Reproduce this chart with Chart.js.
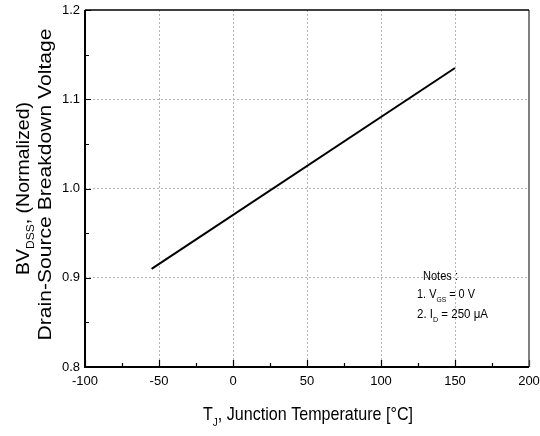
<!DOCTYPE html>
<html>
<head>
<meta charset="utf-8">
<script src="https://cdn.jsdelivr.net/npm/chart.js@4/dist/chart.umd.min.js"></script>
<style>
  html, body { margin: 0; padding: 0; background: #fff; }
  #wrap { width: 540px; height: 436px; position: relative; }
</style>
</head>
<body>
<div id="wrap"><canvas id="c"></canvas></div>
<script>
// ---- Data ----
const temperatures = [-55, 150];          // T_J [°C]
const bvNormalized = [0.910, 1.135];      // BV_DSS (normalized)
const xTickValues = [-100, -50, 0, 50, 100, 150, 200];
const yTickValues = [0.8, 0.9, 1.0, 1.1, 1.2];
const xTitleParts = [{t: 'T'}, {t: 'J', sub: true}, {t: ', Junction Temperature [°C]'}];
const yTitleLine1 = [{t: 'BV'}, {t: 'DSS', sub: true}, {t: ', (Normalized)'}];
const yTitleLine2 = [{t: 'Drain-Source Breakdown Voltage'}];
const noteLines = [
  [{t: 'Notes :'}],
  [{t: '1. V'}, {t: 'GS', sub: true}, {t: ' = 0 V'}],
  [{t: '2. I'}, {t: 'D', sub: true}, {t: ' = 250 μA'}]
];

const FONT = '"Liberation Sans", Arial, sans-serif';

function drawRich(ctx, parts, x, y, size, o) {
  o = o || {};
  const widths = parts.map(p => {
    ctx.font = (p.sub ? size * 0.62 : size) + 'px ' + FONT;
    return ctx.measureText(p.t).width;
  });
  const W = widths.reduce((a, b) => a + b, 0);
  const sx = o.width ? o.width / W : (o.scaleX || 1);
  ctx.save();
  ctx.translate(x, y);
  if (o.rotate) ctx.rotate(o.rotate);
  ctx.scale(sx, 1);
  ctx.fillStyle = '#000';
  ctx.textBaseline = 'alphabetic';
  ctx.textAlign = 'left';
  let cx = o.align === 'left' ? 0 : -W / 2;
  parts.forEach((p, i) => {
    ctx.font = (p.sub ? size * 0.62 : size) + 'px ' + FONT;
    ctx.fillText(p.t, cx, p.sub ? size * 0.3 : 0);
    cx += widths[i];
  });
  ctx.restore();
}

const decorPlugin = {
  id: 'decor',
  afterDraw(chart) {
    const ctx = chart.ctx;
    const a = chart.chartArea;
    const xs = chart.scales.x, ys = chart.scales.y;
    ctx.save();
    // inward ticks
    ctx.strokeStyle = '#000';
    ctx.lineWidth = 1.2;
    ctx.beginPath();
    for (let v = -100; v <= 200; v += 25) {
      const px = Math.round(xs.getPixelForValue(v)) + 0.5;
      const len = (v % 50 === 0) ? 7 : 4;
      ctx.moveTo(px, a.bottom);
      ctx.lineTo(px, a.bottom - len);
    }
    for (let k = 0; k <= 8; k++) {
      const v = 0.8 + k * 0.05;
      const py = Math.round(ys.getPixelForValue(v)) + 0.5;
      const len = (k % 2 === 0) ? 6 : 4;
      ctx.moveTo(a.left, py);
      ctx.lineTo(a.left + len, py);
    }
    ctx.stroke();
    // frame
    ctx.lineWidth = 1.5;
    ctx.strokeStyle = '#555';
    ctx.beginPath();
    ctx.moveTo(a.right, a.top); ctx.lineTo(a.right, a.bottom);
    ctx.stroke();
    ctx.strokeStyle = '#000';
    ctx.beginPath();
    ctx.moveTo(a.left, a.top); ctx.lineTo(a.right, a.top);
    ctx.stroke();
    ctx.lineWidth = 2;
    ctx.beginPath();
    ctx.moveTo(a.left, a.top); ctx.lineTo(a.left, a.bottom); ctx.lineTo(a.right, a.bottom);
    ctx.stroke();
    ctx.restore();

    // axis titles
    drawRich(ctx, xTitleParts, 308, 420, 19, {width: 210});
    const cyMid = (a.top + a.bottom) / 2;
    drawRich(ctx, yTitleLine1, 29, cyMid, 18, {rotate: -Math.PI / 2, width: 173});
    drawRich(ctx, yTitleLine2, 51, cyMid - 4, 18, {rotate: -Math.PI / 2, width: 312});

    // notes
    drawRich(ctx, noteLines[0], 423, 280, 13, {align: 'left', width: 35});
    drawRich(ctx, noteLines[1], 417, 298, 13, {align: 'left', width: 58});
    drawRich(ctx, noteLines[2], 417, 318, 13, {align: 'left', width: 71});
  }
};

const gridColor = (edgeVals) => (c) => {
  const v = c.tick ? c.tick.value : null;
  return (v !== null && edgeVals.some(e => Math.abs(e - v) < 1e-9)) ? 'rgba(0,0,0,0)' : '#b5b5b5';
};

new Chart(document.getElementById('c'), {
  type: 'scatter',
  data: {
    datasets: [{
      data: temperatures.map((t, i) => ({x: t, y: bvNormalized[i]})),
      showLine: true,
      borderColor: '#000',
      borderWidth: 2,
      pointRadius: 0,
      fill: false
    }]
  },
  options: {
    responsive: true,
    maintainAspectRatio: false,
    animation: false,
    layout: { padding: { left: 0, top: 10, right: 11, bottom: 0 } },
    plugins: { legend: { display: false }, tooltip: { enabled: false } },
    scales: {
      x: {
        type: 'linear',
        min: xTickValues[0],
        max: xTickValues[xTickValues.length - 1],
        afterBuildTicks: (s) => { s.ticks = xTickValues.map(v => ({value: v})); },
        afterFit: (s) => { s.height = 69; s.paddingLeft = 0; s.paddingRight = 0; },
        ticks: {
          color: '#000',
          font: { family: FONT, size: 13 },
          padding: 7,
          maxRotation: 0,
          callback: (v) => String(v)
        },
        grid: { drawTicks: false, color: gridColor([-100, 200]), lineWidth: 1 },
        border: { display: false, dash: [2, 2] }
      },
      y: {
        type: 'linear',
        min: yTickValues[0],
        max: yTickValues[yTickValues.length - 1],
        afterBuildTicks: (s) => { s.ticks = yTickValues.map(v => ({value: v})); },
        afterFit: (s) => { s.width = 85; s.paddingTop = 0; s.paddingBottom = 0; },
        ticks: {
          color: '#000',
          font: { family: FONT, size: 13 },
          padding: 5,
          callback: (v) => Number(v).toFixed(1)
        },
        grid: { drawTicks: false, color: gridColor([0.8, 1.2]), lineWidth: 1 },
        border: { display: false, dash: [2, 2] }
      }
    }
  },
  plugins: [decorPlugin]
});
</script>
</body>
</html>
